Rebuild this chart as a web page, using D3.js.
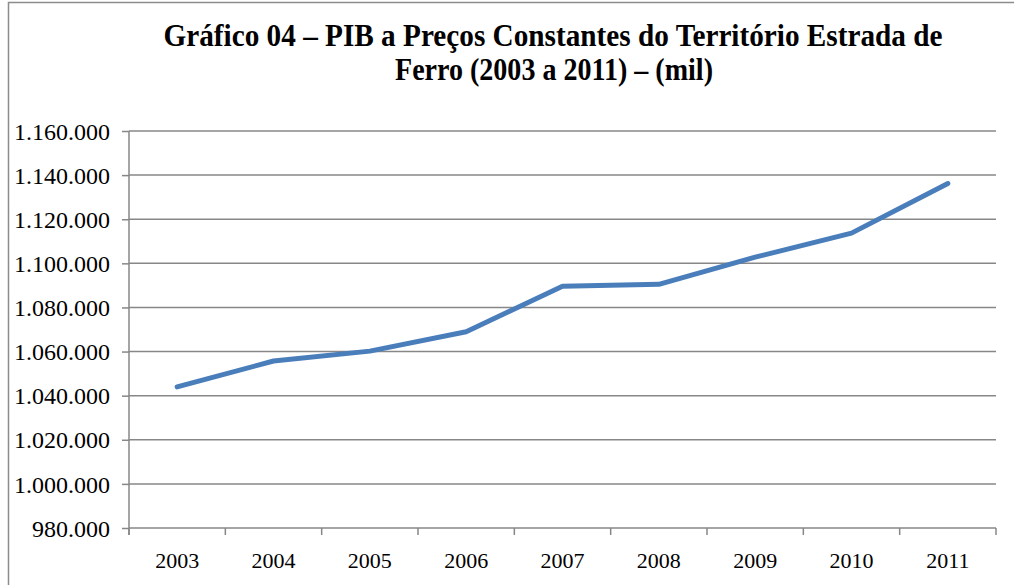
<!DOCTYPE html>
<html><head><meta charset="utf-8">
<script src="https://cdn.jsdelivr.net/npm/d3@7"></script>
<style>html,body{margin:0;padding:0;background:#fff;}svg{display:block;}
text{font-family:'Liberation Serif','Times New Roman',serif;}</style>
</head><body>
<svg id="c" width="1014" height="585"></svg>
<script>
const years = ["2003","2004","2005","2006","2007","2008","2009","2010","2011"];
const pib = [1044000, 1055700, 1060200, 1069000, 1089600, 1090500, 1102800, 1113700, 1136200];
const yTicks = [980000, 1000000, 1020000, 1040000, 1060000, 1080000, 1100000, 1120000, 1140000, 1160000];
const titleLines = ["Gráfico 04 – PIB a Preços Constantes do Território  Estrada de", "Ferro (2003 a 2011) – (mil)"];

(function () {
const svg = d3.select("#c");
const pLeft = 129, pRight = 996, pTop = 131, pBottom = 528;
const grey = "#878787";
const ff = "'Liberation Serif','Times New Roman',serif";

svg.append("rect").attr("x", 8.5).attr("y", 2.5).attr("width", 1020).attr("height", 600)
  .attr("fill", "none").attr("stroke", "#8c8c8c").attr("stroke-width", 1.5);

const x = d3.scaleBand().domain(years).range([pLeft, pRight]);
const y = d3.scaleLinear().domain([980000, 1160000]).range([pBottom, pTop]);
const fmt = v => d3.format(",")(v).replace(/,/g, ".");

svg.append("g").selectAll("line").data(yTicks.filter(v => v > 980000)).join("line")
  .attr("x1", pLeft).attr("x2", pRight).attr("y1", d => y(d)).attr("y2", d => y(d))
  .attr("stroke", grey).attr("stroke-width", 1.5);

const ya = svg.append("g").attr("transform", `translate(${pLeft},0)`)
  .call(d3.axisLeft(y).tickValues(yTicks).tickFormat(fmt).tickSize(7).tickPadding(12));
ya.attr("font-family", ff);
ya.select(".domain").attr("stroke", grey).attr("stroke-width", 1.5).attr("d", `M0,${pTop}V${pBottom + 7}`);
ya.selectAll(".tick line").attr("stroke", grey).attr("stroke-width", 1.5);
ya.selectAll("text").style("font-family", ff).attr("font-size", 24).attr("fill", "#000").attr("dy", "0.34em");

const xa = svg.append("g").attr("transform", `translate(0,${pBottom})`)
  .call(d3.axisBottom(x).tickSize(0).tickPadding(24));
xa.attr("font-family", ff);
xa.select(".domain").attr("stroke", grey).attr("stroke-width", 1.5).attr("d", `M${pLeft},0H${pRight}`);
xa.selectAll("text").style("font-family", ff).attr("font-size", 22).attr("fill", "#000");
svg.append("g").selectAll("line").data(years.concat(["end"])).join("line")
  .attr("x1", (d, i) => pLeft + i * x.step()).attr("x2", (d, i) => pLeft + i * x.step())
  .attr("y1", pBottom).attr("y2", pBottom + 7).attr("stroke", grey).attr("stroke-width", 1.5);

const line = d3.line().x((d, i) => x(years[i]) + x.bandwidth() / 2).y(d => y(d));
svg.append("path").datum(pib).attr("d", line).attr("fill", "none")
  .attr("stroke", "#4A7EBB").attr("stroke-width", 5).attr("stroke-linecap", "round").attr("stroke-linejoin", "round");

const tl = [{t: titleLines[0], x: 553, y: 46, w: 779}, {t: titleLines[1], x: 554, y: 80, w: 318}];
svg.append("g").selectAll("text").data(tl).join("text")
  .attr("x", d => d.x).attr("y", d => d.y).attr("text-anchor", "middle")
  .style("font-family", ff).attr("font-weight", "bold")
  .attr("font-size", 31).attr("textLength", d => d.w).attr("lengthAdjust", "spacingAndGlyphs")
  .text(d => d.t);
})();
</script>
</body></html>
